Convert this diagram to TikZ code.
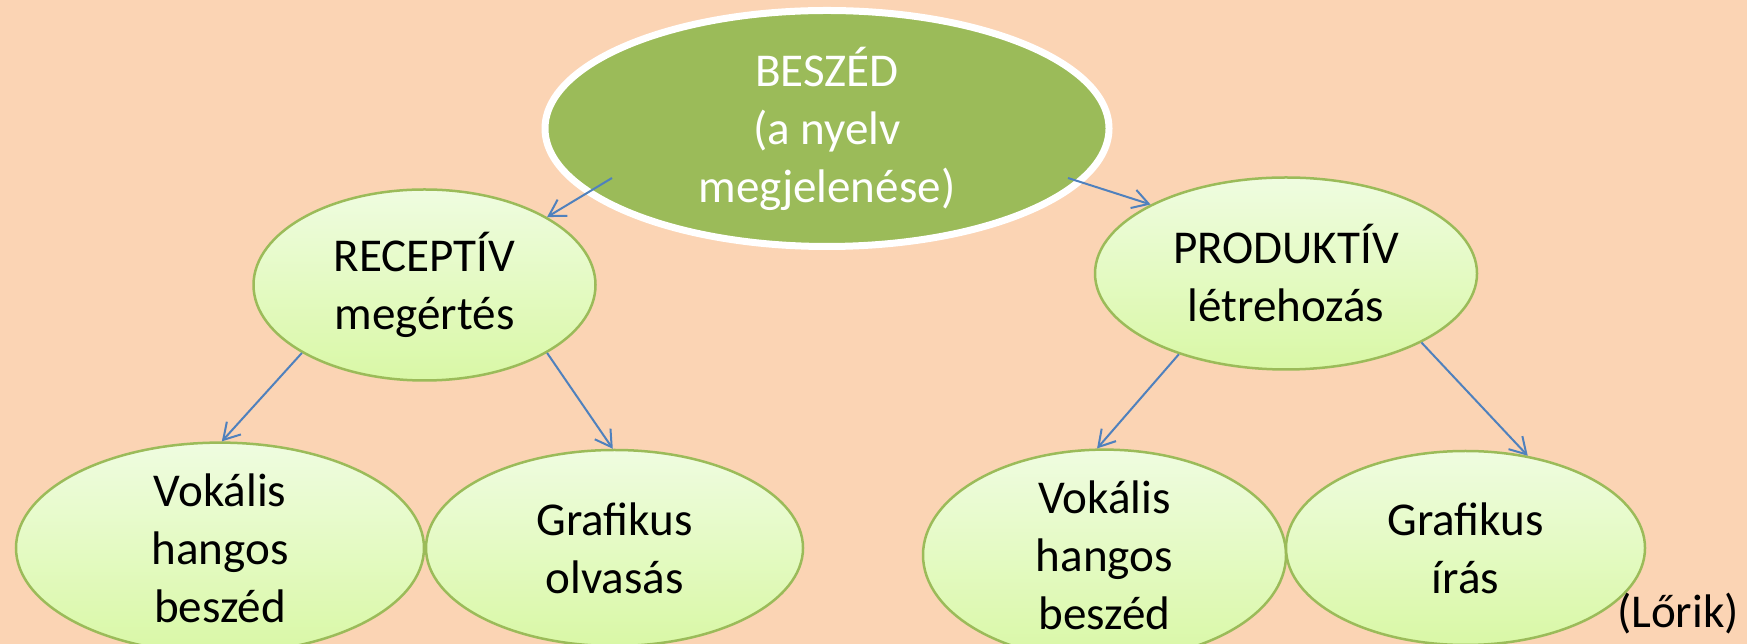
\documentclass[tikz,border=0pt]{standalone}
\usepackage{fontspec}
\setmainfont{Carlito}
\usetikzlibrary{shapes.geometric,arrows.meta}
\definecolor{peach}{HTML}{FBD4B4}
\definecolor{leafgreen}{HTML}{9BBB59}
\definecolor{paleleaf}{HTML}{EFFCE0}
\definecolor{limeleaf}{HTML}{D9F8A6}
\definecolor{arrowblue}{HTML}{4F81BD}
\begin{document}
\begin{tikzpicture}[
  txt/.style={font=\fontsize{13.4}{16.5}\selectfont,align=center},
  root/.style={ellipse,txt,inner sep=0pt,fill=leafgreen,draw=white,line width=0.7mm,text=white},
  leaf/.style={ellipse,txt,inner sep=0pt,draw=leafgreen,line width=0.25mm,top color=paleleaf,bottom color=limeleaf},
  arr/.style={-{Straight Barb[length=1.6mm,width=1.9mm]},line width=0.2mm,arrowblue}
]

\fill[peach] (0,0) rectangle (17.47,6.44);
\useasboundingbox (0,0) rectangle (17.47,6.44);

\node[root,minimum width=5.64cm,minimum height=2.36cm] (B) at (8.27,5.155) {BESZÉD\\(a nyelv\\megjelenése)};

\node[leaf,minimum width=3.42cm,minimum height=1.91cm] (R) at (4.245,3.59) {RECEPTÍV\\megértés};
\node[leaf,minimum width=3.82cm,minimum height=1.92cm] (P) at (12.86,3.705) {PRODUKTÍV\\létrehozás};

\node[leaf,minimum width=4.08cm,minimum height=1.96cm] (RV) at (2.20,0.96) {Vokális\\hangos\\beszéd};
\node[leaf,minimum width=3.77cm,minimum height=1.96cm] (RG) at (6.145,0.96) {Grafikus\\olvasás};
\node[leaf,minimum width=3.63cm,minimum height=1.94cm] (PV) at (11.045,0.89) {Vokális\\hangos\\beszéd};
\node[leaf,minimum width=3.59cm,minimum height=1.94cm] (PG) at (14.655,0.96) {Grafikus\\írás};

\node[txt] (L) at (16.78,0.30) {(Lőrik)};

\coordinate (BL) at (6.12,4.66);
\coordinate (BR) at (10.68,4.66);

\draw[arr] (BL) -- (R.29);
\draw[arr] (BR) -- (P.153);
\draw[arr] (R.209) -- (RV.89);
\draw[arr] (R.331) -- (RG.91);
\draw[arr] (P.217) -- (PV.94);
\draw[arr] (P.333) -- (PG.56);

\end{tikzpicture}
\end{document}
